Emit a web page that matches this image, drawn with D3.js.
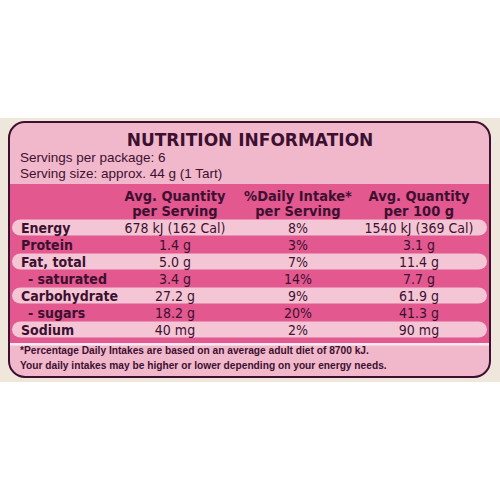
<!DOCTYPE html>
<html><head><meta charset="utf-8">
<script src="https://cdn.jsdelivr.net/npm/d3@7"></script>
<style>body{margin:0;background:#fff}</style>
</head><body>
<svg id="chart" width="500" height="500"></svg>
<script>
const nutrients = ["Energy", "Protein", "Fat, total", "- saturated", "Carbohydrate", "- sugars", "Sodium"];
const perServing = ["678 kJ (162 Cal)", "1.4 g", "5.0 g", "3.4 g", "27.2 g", "18.2 g", "40 mg"];
const dailyIntake = ["8%", "3%", "7%", "14%", "9%", "20%", "2%"];
const per100g = ["1540 kJ (369 Cal)", "3.1 g", "11.4 g", "7.7 g", "61.9 g", "41.3 g", "90 mg"];
const headers = [["Avg. Quantity", "per Serving"], ["%Daily Intake*", "per Serving"], ["Avg. Quantity", "per 100 g"]];
const footnotes = ["*Percentage Daily Intakes are based on an average adult diet of 8700 kJ.",
                   "Your daily intakes may be higher or lower depending on your energy needs."];

const svg = d3.select("#chart");
const dark = "#3d1030";
const narrow = "'Liberation Sans Narrow','DejaVu Sans Condensed',sans-serif";

svg.append("rect").attr("x", 0).attr("y", 118).attr("width", 500).attr("height", 264).attr("fill", "#efe6dc");

const clip = svg.append("clipPath").attr("id", "panel");
clip.append("rect").attr("x", 9).attr("y", 122).attr("width", 481).attr("height", 255).attr("rx", 16);
const g = svg.append("g").attr("clip-path", "url(#panel)");
g.append("rect").attr("x", 9).attr("y", 122).attr("width", 481).attr("height", 255).attr("fill", "#f1b8cb");
g.append("rect").attr("x", 9).attr("y", 184).attr("width", 481).attr("height", 159).attr("fill", "#e2588f");
g.append("rect").attr("x", 9).attr("y", 343).attr("width", 481).attr("height", 2.5).attr("fill", "#fbe9ef");
svg.append("rect").attr("x", 9).attr("y", 122).attr("width", 481).attr("height", 255).attr("rx", 16)
  .attr("fill", "none").attr("stroke", dark).attr("stroke-width", 2);

const y = d3.scaleBand().domain(nutrients).range([219, 338]);
const x = d3.scaleOrdinal().domain([0, 1, 2]).range([175, 298, 419]);

g.selectAll("rect.pill").data(nutrients.filter((d, i) => i % 2 === 0)).join("rect")
  .attr("class", "pill").attr("x", 12).attr("y", d => y(d) + 0.5).attr("width", 475)
  .attr("height", y.bandwidth() - 1).attr("rx", 8.5).attr("fill", "#f4c6d5");

svg.append("text").attr("x", 250).attr("y", 146).attr("text-anchor", "middle")
  .attr("font-family", "'DejaVu Sans',sans-serif").attr("font-weight", "bold").attr("font-size", 17)
  .attr("fill", dark).text("NUTRITION INFORMATION");
svg.selectAll("text.serv").data(["Servings per package: 6", "Serving size: approx. 44 g (1 Tart)"]).join("text")
  .attr("class", "serv").attr("x", 20).attr("y", (d, i) => 162 + i * 16)
  .attr("font-family", "'Liberation Sans',Arial,sans-serif").attr("font-size", 13.5).attr("fill", dark).text(d => d);

headers.forEach((h, c) => {
  svg.selectAll(null).data(h).join("text").attr("x", x(c)).attr("y", (d, i) => 201 + i * 15)
    .attr("text-anchor", "middle").attr("font-family", narrow).attr("font-weight", "bold")
    .attr("font-size", 14.5).attr("fill", dark).text(d => d);
});

const row = svg.selectAll("g.row").data(nutrients).join("g").attr("class", "row")
  .attr("transform", d => `translate(0,${y(d) + y.bandwidth() / 2 + 5})`)
  .attr("font-family", narrow).attr("font-size", 14).attr("fill", dark);
row.append("text").attr("x", d => d.startsWith("-") ? 28 : 21).attr("font-weight", "bold").text(d => d);
[perServing, dailyIntake, per100g].forEach((arr, c) => {
  row.append("text").attr("x", x(c)).attr("text-anchor", "middle").text((d, i) => arr[i]);
});

svg.selectAll("text.foot").data(footnotes).join("text").attr("class", "foot")
  .attr("x", 20).attr("y", (d, i) => 354 + i * 15)
  .attr("font-family", "'Liberation Sans',Arial,sans-serif").attr("font-weight", "bold")
  .attr("font-size", 10.2).attr("fill", dark).text(d => d);
</script>
</body></html>
